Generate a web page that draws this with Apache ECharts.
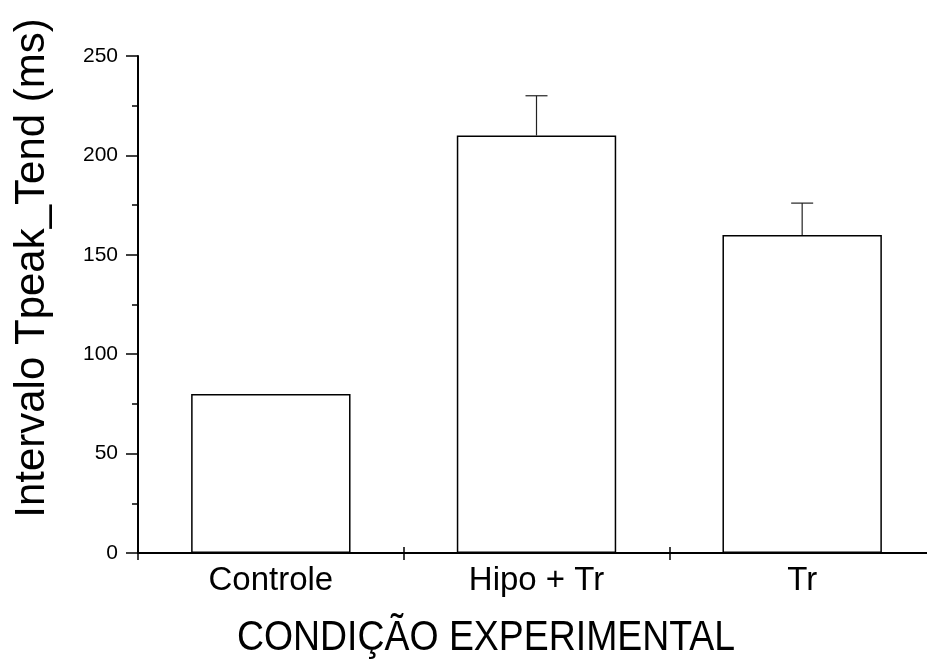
<!DOCTYPE html>
<html>
<head>
<meta charset="utf-8">
<script src="https://cdn.jsdelivr.net/npm/echarts@6/dist/echarts.min.js"></script>
<style>
html,body{margin:0;padding:0;background:#fff;}
#chart{width:927px;height:664px;}
</style>
</head>
<body>
<div id="chart"></div>
<script>
var categories = ['Controle', 'Hipo + Tr', 'Tr'];
var means = [80, 210, 160];
var errors = [0, 20, 16];
var yTicks = [0, 50, 100, 150, 200, 250];
var xAxisTitle = 'CONDIÇÃO EXPERIMENTAL';
var yAxisTitle = 'Intervalo Tpeak_Tend (ms)';

var FONT = '"Liberation Sans", Arial, sans-serif';
var chart = echarts.init(document.getElementById('chart'), null, {renderer: 'canvas'});

var errData = categories.map(function (c, i) { return [i, means[i], means[i] + errors[i]]; });

var option = {
  backgroundColor: '#fff',
  animation: false,
  grid: {left: 138, right: -8, top: 56, bottom: 111, containLabel: false, outerBoundsMode: 'none'},
  xAxis: [{
    type: 'category',
    data: categories,
    position: 'bottom',
    boundaryGap: true,
    axisLine: {show: true, lineStyle: {color: '#000', width: 2}},
    axisTick: {show: true, inside: false, length: 7, lineStyle: {color: '#000', width: 1.5}},
    axisLabel: {color: '#000', fontSize: 33, fontFamily: FONT, margin: 11},
    splitLine: {show: false}
  }, {
    type: 'category',
    data: categories,
    position: 'bottom',
    boundaryGap: true,
    axisLine: {show: false},
    axisTick: {show: true, inside: true, length: 6, lineStyle: {color: '#000', width: 1.5}},
    axisLabel: {show: false},
    splitLine: {show: false}
  }],
  yAxis: {
    type: 'value',
    min: yTicks[0],
    max: yTicks[yTicks.length - 1],
    interval: 50,
    axisLine: {show: true, lineStyle: {color: '#000', width: 2}},
    axisTick: {show: true, inside: false, length: 12, lineStyle: {color: '#000', width: 1.5}},
    minorTick: {show: true, splitNumber: 2, length: 6, lineStyle: {color: '#000', width: 1.5}},
    axisLabel: {color: '#000', fontSize: 21, fontFamily: FONT, margin: 20},
    splitLine: {show: false}
  },
  series: [{
    type: 'bar',
    data: means,
    xAxisIndex: 0,
    barWidth: '60%',
    itemStyle: {color: '#fff', borderColor: '#000', borderWidth: 1.5},
    z: 2
  }, {
    type: 'custom',
    xAxisIndex: 0,
    data: errData,
    z: 3,
    renderItem: function (params, api) {
      var x = api.value(0);
      var lo = api.coord([x, api.value(1)]);
      var hi = api.coord([x, api.value(2)]);
      if (api.value(2) <= api.value(1)) return {type: 'group', children: []};
      var half = 11;
      var st = {stroke: '#222', lineWidth: 1.2};
      return {
        type: 'group',
        children: [
          {type: 'line', shape: {x1: lo[0], y1: lo[1], x2: hi[0], y2: hi[1]}, style: st},
          {type: 'line', shape: {x1: hi[0] - half, y1: hi[1], x2: hi[0] + half, y2: hi[1]}, style: st}
        ]
      };
    }
  }],
  graphic: [{
    type: 'text',
    x: 486, y: 638,
    scaleX: 0.87,
    style: {text: xAxisTitle, fill: '#000', fontSize: 43, fontFamily: FONT, align: 'center', verticalAlign: 'middle'}
  }, {
    type: 'text',
    x: 32, y: 268,
    rotation: Math.PI / 2,
    style: {text: yAxisTitle, fill: '#000', fontSize: 42, fontFamily: FONT, align: 'center', verticalAlign: 'middle'}
  }]
};
chart.setOption(option);
</script>
</body>
</html>
